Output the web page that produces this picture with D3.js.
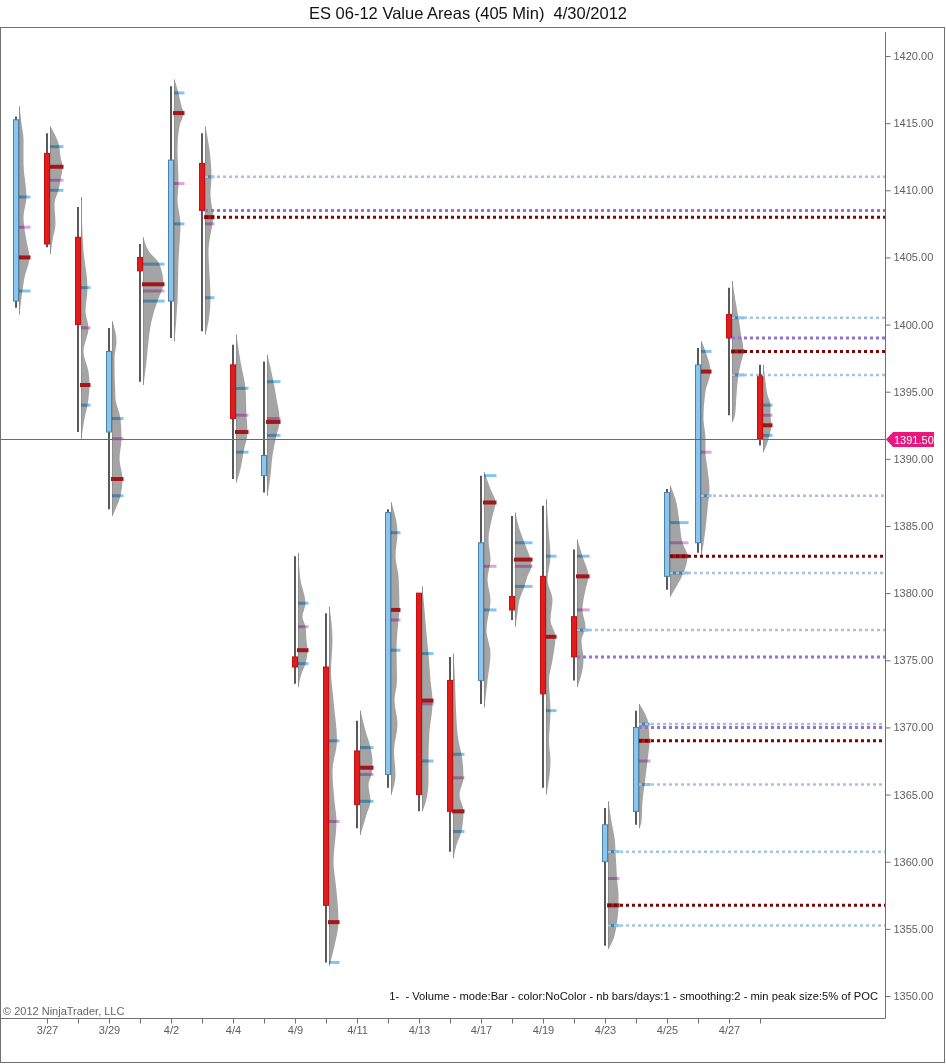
<!DOCTYPE html>
<html><head><meta charset="utf-8">
<script src="https://cdn.jsdelivr.net/npm/d3@7/dist/d3.min.js"></script>
<style>
body{margin:0;background:#fff}
svg{display:block;font-family:"Liberation Sans",Arial,sans-serif}
text{white-space:pre}
</style>
</head><body>
<svg id="chart" width="946" height="1064"></svg>
<script>
// ---------- DATA ----------
const title = "ES 06-12 Value Areas (405 Min)  4/30/2012";
const dates = ["3/26","3/27","3/28","3/29","3/30","4/2","4/3","4/4","4/5","4/9","4/10","4/11","4/12","4/13","4/16","4/17","4/18","4/19","4/20","4/23","4/24","4/25","4/26","4/27","4/30"];
const opens  = [1401.75,1412.75,1406.5,1392.0,1405.0,1401.75,1412.0,1397.0,1388.75,1375.25,1374.5,1368.25,1366.5,1380.0,1373.5,1373.5,1379.75,1381.25,1378.25,1360.0,1363.75,1381.25,1383.75,1400.75,1396.25];
const highs  = [1415.5,1414.25,1408.75,1399.75,1406.0,1417.75,1414.25,1398.5,1397.25,1382.75,1378.5,1370.5,1386.25,1380.0,1375.25,1388.75,1385.75,1386.5,1383.25,1364.0,1371.25,1387.75,1398.25,1402.75,1397.0];
const lows   = [1401.25,1405.75,1392.0,1386.25,1395.75,1399.0,1399.5,1388.5,1387.5,1373.25,1352.5,1362.5,1365.5,1363.75,1360.75,1371.75,1378.0,1365.5,1373.5,1353.75,1362.75,1380.25,1383.0,1393.25,1391.0];
const closes = [1415.25,1406.0,1400.0,1398.0,1404.0,1412.25,1408.5,1393.0,1390.25,1374.5,1356.75,1364.25,1386.0,1365.0,1363.75,1383.75,1378.75,1372.5,1375.25,1362.75,1370.0,1387.5,1397.0,1399.0,1391.5];
const vah = [1409.5,1413.25,1402.75,1393.0,1404.5,1417.25,1411.0,1395.25,1395.75,1379.25,1369.0,1368.5,1384.5,1375.5,1368.0,1388.75,1383.75,1382.75,1382.75,1360.75,1370.25,1385.25,1398.0,1400.5,1394.0];
const mid = [1407.25,1410.75,1399.75,1391.5,1402.5,1410.5,1407.5,1393.25,1393.0,1377.5,1363.0,1366.5,1378.0,1371.75,1366.25,1382.0,1382.0,null,1378.75,1358.75,1367.5,1383.75,1390.5,null,1393.25];
const poc = [1405.0,1411.75,1395.5,1388.5,1403.0,1415.75,1408.0,1392.0,1392.75,1375.75,1355.5,1367.0,1378.75,1372.0,1363.75,1386.75,1382.5,1376.75,1381.25,1356.75,1369.0,1382.75,1396.5,1398.0,1392.5];
const val = [1402.5,1410.0,1394.0,1387.25,1401.75,1407.5,1402.0,1390.5,1391.75,1374.75,1352.5,1364.5,1375.75,1367.5,1362.25,1378.75,1380.5,1371.25,1377.25,1355.25,1365.75,1381.5,1387.25,1396.25,1391.75];
// volume profile per bar: [price, volume]
const profiles = [
 [[1416.25,0],[1415,2],[1413.75,4],[1412,4],[1409.5,7],[1408,4],[1406.25,7],[1405,10],[1403.5,5],[1402,2],[1400.75,0]],
 [[1414.75,0],[1413.5,8],[1412.5,10],[1411.75,12],[1410.75,10],[1410,8],[1409,4],[1407.5,5],[1406.25,2],[1405.25,0]],
 [[1409.5,0],[1405.5,2],[1402.75,6],[1401,4],[1399.75,7],[1398,2],[1396.5,7],[1395.5,8],[1394,6],[1393,3],[1391.5,0]],
 [[1400.25,0],[1398.75,4],[1397.5,2],[1394.5,3],[1393,8],[1391.5,9],[1390,7],[1388.5,10],[1387.25,8],[1386.25,3],[1385.75,0]],
 [[1406.5,0],[1405.5,5],[1404.5,16],[1403,20],[1402.5,18],[1401.75,14],[1400.25,8],[1398.75,5],[1397.25,3],[1395.5,0]],
 [[1418.25,0],[1417.25,4],[1416.25,7],[1415.75,9],[1414.75,5],[1413,3],[1410.5,4],[1409.25,3],[1407.5,6],[1404.75,4],[1401.75,3],[1398.75,0]],
 [[1414.75,0],[1413,4],[1411,6],[1409.75,5],[1408.5,7],[1408,8],[1407.5,7],[1405.5,3],[1402,5],[1400.25,3],[1399.25,0]],
 [[1399.25,0],[1397.25,4],[1395.25,9],[1393.25,10],[1392,11],[1390.5,7],[1389.25,4],[1388.25,0]],
 [[1397.75,0],[1395.75,6],[1394.5,9],[1393,12],[1392.75,12],[1391.75,9],[1390.25,5],[1388.75,3],[1387.25,0]],
 [[1383,0],[1381,2],[1379.25,7],[1378.25,4],[1377.5,7],[1376.5,8],[1375.75,9],[1374.75,7],[1374,3],[1373,0]],
 [[1379,0],[1376.5,3],[1374.25,1.5],[1372,4],[1369,7.5],[1366.75,3],[1364.5,5],[1363,7],[1360,4],[1358.5,6],[1357,8],[1355.5,9],[1353.75,5],[1352.25,0]],
 [[1371.25,0],[1369.75,5],[1368.5,10],[1367.5,12],[1367,12],[1366.5,11],[1365.75,8],[1364.5,10],[1363.5,6],[1362,0]],
 [[1386.75,0],[1384.5,6],[1382.75,4],[1381.25,7],[1378.75,8],[1378,7],[1375.75,5],[1373.5,5.5],[1372,3],[1370.25,6],[1368.25,2.5],[1366.5,4],[1365,0]],
 [[1380.5,0],[1378.75,2],[1377,4],[1375.5,6],[1373.5,8],[1372,10],[1371.75,10],[1369.75,7],[1367.5,6],[1366,6],[1364.5,3.5],[1363.75,0]],
 [[1375.5,0],[1373.5,1.5],[1371.25,2.5],[1369,5],[1368,8],[1366.25,10],[1365,6],[1363.75,10],[1362.25,8],[1361.25,3],[1360.25,0]],
 [[1389,0],[1387.75,6],[1386.75,11],[1385.75,8],[1384,4],[1382.5,6],[1381,3],[1379.5,6],[1377.25,2],[1375.5,6],[1373.5,3],[1371.5,0]],
 [[1386,0],[1384.75,4],[1383.75,9],[1382.5,15],[1382,16],[1381.25,12],[1380.5,9],[1379.5,4],[1378.5,2],[1377.5,0]],
 [[1387,0],[1384.75,2],[1382.75,4],[1381,1],[1379.5,6],[1378,4],[1376.75,9],[1375,6],[1373.5,2.5],[1371.25,4],[1369,2.5],[1367.5,4],[1365,0]],
 [[1384,0],[1382.75,5],[1381.25,11],[1380.25,8],[1378.75,5],[1377.5,8],[1376.5,4],[1375,6],[1373,0]],
 [[1364.5,0],[1363,3],[1361.5,6.5],[1360.75,7],[1359.5,8],[1358.75,8.5],[1357.5,10],[1356.75,10],[1355.25,8],[1354.25,5],[1353.5,0]],
 [[1371.75,0],[1370.25,9],[1369,10],[1367.5,8],[1366,5.5],[1364.5,3],[1363,2],[1362.5,0]],
 [[1388,0],[1387,5],[1385.25,9],[1383.75,12],[1382.75,17],[1381.5,13],[1380.5,6],[1379.75,0]],
 [[1398.75,0],[1398,4],[1396.5,9],[1395,4],[1393,2],[1391.5,4],[1390.5,4],[1389.25,6],[1387.75,8],[1386.25,6],[1384.75,4],[1382.75,0]],
 [[1403.25,0],[1401.75,3],[1400.5,6],[1399.5,8],[1398,11],[1397,8],[1396.25,6],[1394.75,4],[1393.25,2.5],[1392.75,0]],
 [[1397,0],[1395.75,2],[1394.75,4],[1394,7],[1393.25,7],[1392.5,8],[1391.75,6],[1391,3],[1390.5,0]]
];
// untouched (naked) levels extended to the right: bar index, price, kind
const levelBars   = [6,6,6,18,18,19,19,19,20,20,20,20,21,21,22,23,23,23,23];
const levelPrices = [1411.0,1408.5,1408.0,1377.25,1375.25,1360.75,1356.75,1355.25,1370.25,1370.0,1369.0,1365.75,1382.75,1381.5,1387.25,1400.5,1399.0,1398.0,1396.25];
const levelKinds  = ["va","close","poc","va","close","va","poc","va","va","close","poc","va","poc","va","va","va","close","poc","va"];
const lastPrice = 1391.50;
const yTicks = [1350,1355,1360,1365,1370,1375,1380,1385,1390,1395,1400,1405,1410,1415,1420];
const xLabelDates = ["3/27","3/29","4/2","4/4","4/9","4/11","4/13","4/17","4/19","4/23","4/25","4/27"];
const footerText = "1-  - Volume - mode:Bar - color:NoColor - nb bars/days:1 - smoothing:2 - min peak size:5% of POC";
const copyright = "\u00A9 2012 NinjaTrader, LLC";

// ---------- LAYOUT ----------
const plotL = 1, plotR = 885, plotT = 27, plotB = 1018;
const svg = d3.select("#chart");

const y = d3.scaleLinear().domain([1350, 1420]).range([996, 56]);
const x = d3.scalePoint().domain(dates).range([16, 760]);
const w = d3.scaleLinear().domain([0, 20]).range([0, 20]);

// title
svg.append("text").attr("x", 468).attr("y", 19).attr("text-anchor", "middle")
  .attr("font-size", 16.5).attr("fill", "#111").text(title);

// outer frame
svg.append("rect").attr("x", 0.5).attr("y", 27.5).attr("width", 944).attr("height", 1035)
  .attr("fill", "none").attr("stroke", "#707070");
svg.append("line").attr("x1", 0).attr("x2", plotR + 0.5).attr("y1", plotB + 0.5).attr("y2", plotB + 0.5)
  .attr("stroke", "#707070");
svg.append("line").attr("x1", plotR + 0.5).attr("x2", plotR + 0.5).attr("y1", 32).attr("y2", plotB + 0.5)
  .attr("stroke", "#707070");

// y axis
const yAxis = svg.append("g").attr("transform", `translate(${plotR + 0.5},0)`)
  .call(d3.axisRight(y).tickValues(yTicks).tickSize(5).tickFormat(d3.format(".2f")));
yAxis.select(".domain").remove();
yAxis.selectAll("line").attr("stroke", "#707070");
yAxis.selectAll("text").attr("fill", "#5e5e5e").attr("font-size", 11).attr("font-family", "Liberation Sans, Arial, sans-serif");

// x axis
const xAxis = svg.append("g").attr("transform", `translate(0,${plotB + 0.5})`)
  .call(d3.axisBottom(x).tickValues(dates.slice(1)).tickSize(5)
    .tickFormat(d => xLabelDates.includes(d) ? d : ""));
xAxis.select(".domain").remove();
xAxis.selectAll("line").attr("stroke", "#707070");
xAxis.selectAll("text").attr("fill", "#5e5e5e").attr("font-size", 11).attr("dy", "0.7em")
  .attr("font-family", "Liberation Sans, Arial, sans-serif");

const g = svg.append("g");

// profiles
const area = d3.area().curve(d3.curveMonotoneY);
dates.forEach((d, i) => {
  const base = x(d) + 3.5;
  area.y(p => y(p[0])).x0(base).x1(p => base + w(p[1]));
  g.append("path").attr("d", area(profiles[i])).attr("fill", "#a4a4a4");
  g.append("line").attr("x1", base).attr("x2", base)
    .attr("y1", y(profiles[i][0][0])).attr("y2", y(profiles[i][profiles[i].length - 1][0]))
    .attr("stroke", "#909090").attr("stroke-width", 1);
});

// markers
dates.forEach((d, i) => {
  const base = x(d) + 3;
  const len = w(d3.max(profiles[i], p => p[1])) + 1.5;
  [vah[i], val[i]].forEach(v => {
    g.append("rect").attr("x", base).attr("y", y(v) - 1.5).attr("width", len).attr("height", 3)
      .attr("fill", "#80c6f2").style("mix-blend-mode", "multiply");
  });
  if (mid[i] !== null) {
    g.append("rect").attr("x", base).attr("y", y(mid[i]) - 1.5).attr("width", len).attr("height", 3)
      .attr("fill", "#e0a2e0").style("mix-blend-mode", "multiply");
  }
  g.append("rect").attr("x", base - 1).attr("y", y(poc[i]) - 2).attr("width", len + 1).attr("height", 4)
    .attr("fill", "#a3171a");
});

// wicks and bodies
dates.forEach((d, i) => {
  const cx = x(d);
  g.append("line").attr("x1", cx).attr("x2", cx).attr("y1", y(highs[i])).attr("y2", y(lows[i]))
    .attr("stroke", "#595959").attr("stroke-width", 2);
  const up = closes[i] >= opens[i];
  const top = y(Math.max(opens[i], closes[i])), bot = y(Math.min(opens[i], closes[i]));
  g.append("rect").attr("x", cx - 2.5).attr("y", top).attr("width", 5).attr("height", Math.max(1, bot - top))
    .attr("fill", up ? "#8ac7ef" : "#e21b1b")
    .attr("stroke", up ? "#4f80a8" : "#c01212").attr("stroke-width", 1);
});

// extended naked levels
const levelStyle = {
  va:    {c: "#a6c3e3", w: 2.5},
  close: {c: "#9470d8", w: 3},
  poc:   {c: "#7a0606", w: 3}
};
levelBars.forEach((b, k) => {
  const st = levelStyle[levelKinds[k]];
  g.append("line").attr("x1", x(dates[b]) + 3).attr("x2", plotR)
    .attr("y1", y(levelPrices[k])).attr("y2", y(levelPrices[k]))
    .attr("stroke", st.c).attr("stroke-width", st.w).attr("stroke-dasharray", "3,3");
});

// last price line and marker
const ly = Math.round(y(lastPrice)) + 0.5;
svg.append("line").attr("x1", plotL).attr("x2", plotR).attr("y1", ly).attr("y2", ly)
  .attr("stroke", "#6a6a6a").attr("stroke-width", 1);
svg.append("path")
  .attr("d", `M${plotR + 1},${ly} L${plotR + 8},${ly - 7.5} L${plotR + 49},${ly - 7.5} L${plotR + 49},${ly + 7.5} L${plotR + 8},${ly + 7.5} Z`)
  .attr("fill", "#e8187f");
svg.append("text").attr("x", plotR + 9).attr("y", ly + 4).attr("font-size", 11).attr("fill", "#fff")
  .text(d3.format(".2f")(lastPrice));

// footer texts
svg.append("text").attr("x", 878).attr("y", 1000).attr("text-anchor", "end")
  .attr("font-size", 11.2).attr("fill", "#111").text(footerText);
svg.append("text").attr("x", 3).attr("y", 1015).attr("font-size", 11).attr("fill", "#666").text(copyright);
</script>
</body></html>
